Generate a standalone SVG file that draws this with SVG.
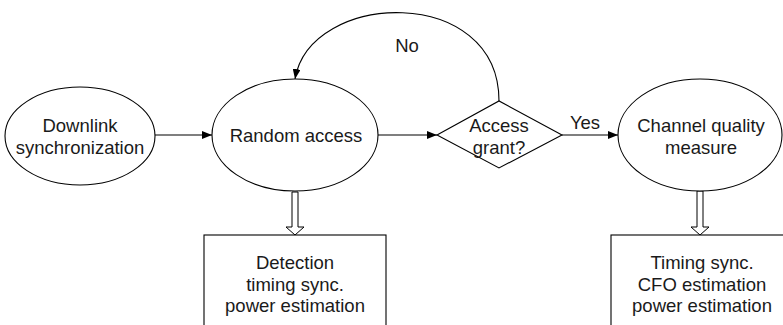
<svg xmlns="http://www.w3.org/2000/svg" width="783" height="325" viewBox="0 0 783 325">
<defs>
<marker id="ah" markerWidth="10" markerHeight="8" refX="10" refY="4" orient="auto" markerUnits="userSpaceOnUse">
<path d="M0,0 L10,4 L0,8 Z" fill="#000"/>
</marker>
<style>
.s{fill:#fff;stroke:#000;stroke-width:1.1}
.c{fill:none;stroke:#000;stroke-width:1.1}
.h{fill:#fff;stroke:#000;stroke-width:1}
text{font-family:"Liberation Sans",Arial,sans-serif;font-size:18.5px;fill:#1a1a1a;text-anchor:middle;dominant-baseline:central}
</style>
</defs>
<rect width="783" height="325" fill="#fff"/>
<g id="connectors">
<line class="c" x1="155" y1="135" x2="212" y2="135" marker-end="url(#ah)"/>
<line class="c" x1="378" y1="135" x2="437" y2="135" marker-end="url(#ah)"/>
<line class="c" x1="562" y1="135" x2="618" y2="135" marker-end="url(#ah)"/>
<path class="c" d="M499,101 C499,-16 310,-10 295,79" marker-end="url(#ah)"/>
<path class="h" d="M292,192 L298,192 L298,227 L304,227 L295,235 L286,227 L292,227 Z"/>
<path class="h" d="M697,191 L703,191 L703,227 L709,227 L700,235 L691,227 L697,227 Z"/>
<text x="407" y="45">No</text>
<text x="585" y="122">Yes</text>
</g>
<g id="downlink">
<ellipse class="s" cx="80" cy="136" rx="75" ry="49"/>
<text x="80" y="125">Downlink</text>
<text x="80" y="147">synchronization</text>
</g>
<g id="random">
<ellipse class="s" cx="295" cy="135" rx="83" ry="56"/>
<text x="296" y="135">Random access</text>
</g>
<g id="grant">
<polygon class="s" points="437,135 499,101 562,135 499,168"/>
<text x="499" y="125">Access</text>
<text x="499" y="147">grant?</text>
</g>
<g id="channel">
<ellipse class="s" cx="700" cy="135" rx="82" ry="56"/>
<text x="701" y="125">Channel quality</text>
<text x="701" y="147">measure</text>
</g>
<g id="box1">
<rect class="s" x="204" y="235" width="182" height="100"/>
<text x="295" y="262">Detection</text>
<text x="295" y="284">timing sync.</text>
<text x="295" y="305">power estimation</text>
</g>
<g id="box2">
<rect class="s" x="611" y="235" width="182" height="100"/>
<text x="702" y="262">Timing sync.</text>
<text x="702" y="284">CFO estimation</text>
<text x="702" y="305">power estimation</text>
</g>
</svg>
